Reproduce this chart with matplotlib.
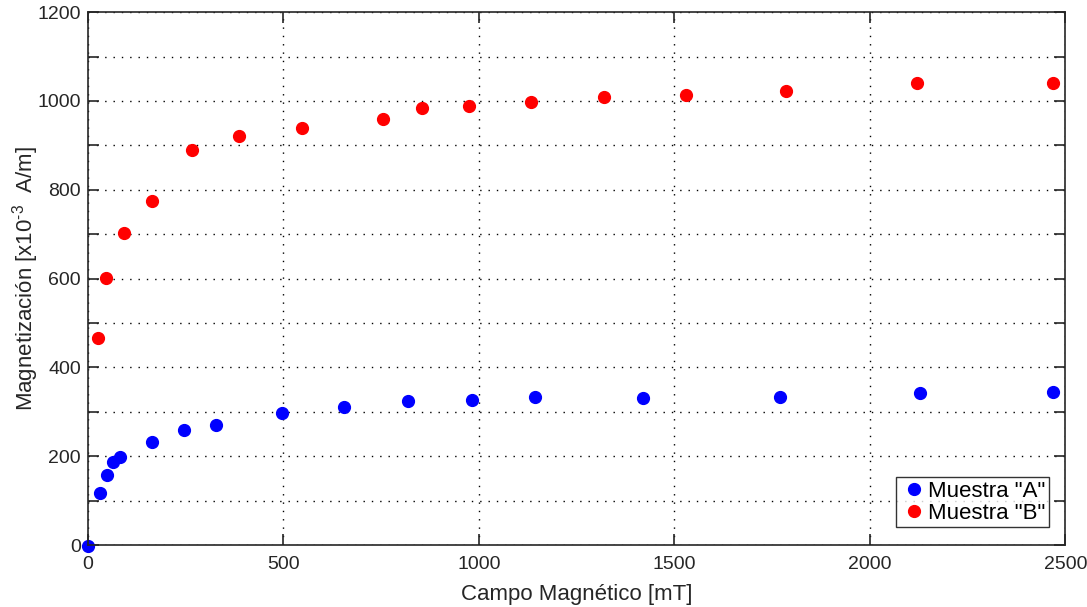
import numpy as np
import matplotlib
matplotlib.use("Agg")
import matplotlib.pyplot as plt
from matplotlib.ticker import MultipleLocator

plt.rcParams['font.family'] = ['Liberation Sans', 'DejaVu Sans']
plt.rcParams['mathtext.fontset'] = 'custom'
plt.rcParams['mathtext.rm'] = 'Liberation Sans'
plt.rcParams['mathtext.it'] = 'Liberation Sans'

# Muestra "A"
campo_a = [0, 31, 49, 64, 82, 164, 246, 328, 496, 655, 819, 983, 1144, 1420, 1771, 2129, 2469]
mag_a = [-2, 117, 158, 187, 198, 232, 260, 270, 297, 311, 324, 326, 333, 331, 333, 342, 344]

# Muestra "B"
campo_b = [26, 46, 92, 164, 266, 386, 548, 755, 855, 975, 1134, 1320, 1530, 1786, 2121, 2469]
mag_b = [466, 601, 702, 774, 889, 921, 940, 959, 984, 988, 997, 1008, 1013, 1022, 1040, 1040]

fig = plt.figure(figsize=(10.87, 6.07), dpi=100)
ax = fig.add_axes([0.081, 0.102, 0.899, 0.878])

ax.plot(campo_a, mag_a, 'o', color='blue', ms=8.5, label='Muestra "A"', clip_on=False)
ax.plot(campo_b, mag_b, 'o', color='red', ms=8.5, label='Muestra "B"', clip_on=False)

ax.set_xlim(0, 2500)
ax.set_ylim(0, 1200)
ax.xaxis.set_major_locator(MultipleLocator(500))
ax.yaxis.set_major_locator(MultipleLocator(200))
ax.yaxis.set_minor_locator(MultipleLocator(100))

ax.grid(True, which='both', linestyle=(0, (1, 5)), color='black', linewidth=1.0)
ax.tick_params(which='both', direction='in', top=True, right=True, labelsize=14, colors='#262626')
ax.tick_params(which='both', length=8, width=1.2)
ax.tick_params(axis='x', pad=8)
ax.tick_params(axis='y', pad=5)
for s in ax.spines.values():
    s.set_linewidth(1.2)
    s.set_color('#262626')

ax.set_xlabel('Campo Magnético [mT]', fontsize=16, color='#262626', labelpad=8)
ax.set_ylabel('Magnetización [x10$^{\\text{-3}}$  A/m]', fontsize=16, color='#262626')
ax.yaxis.set_label_coords(-0.048, 0.5)

leg = ax.legend(loc='lower right', bbox_to_anchor=(0.983, 0.034), fontsize=16, frameon=True,
                fancybox=False, handlelength=1.35, handletextpad=-0.05, borderpad=0.15,
                labelspacing=0.05, borderaxespad=0)
leg.get_frame().set_edgecolor('black')
leg.get_frame().set_linewidth(1.0)

fig.savefig('out.png', dpi=100)
